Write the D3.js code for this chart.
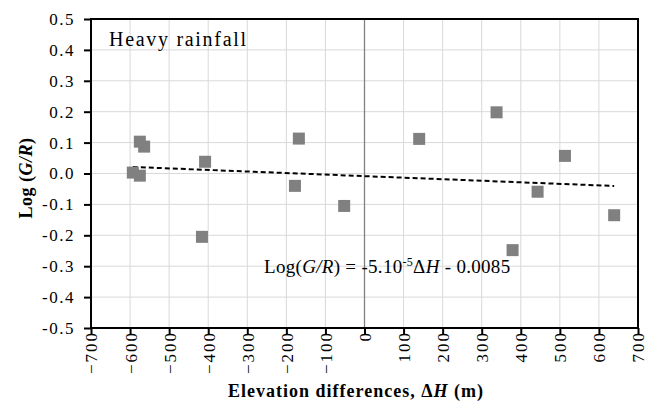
<!DOCTYPE html>
<html>
<head>
<meta charset="utf-8">
<script src="https://cdn.jsdelivr.net/npm/d3@7"></script>
</head>
<body style="margin:0">
<div id="vis"></div>
<script>
// elevation difference (m) and log(G/R) for heavy rainfall
var elevDiff = [-593, -575, -564, -575, -408, -416, -178, -168, -52, 140, 338, 379, 443, 513, 639];
var logGR    = [0.003, 0.103, 0.087, -0.007, 0.038, -0.205, -0.040, 0.113, -0.105, 0.112, 0.198, -0.248, -0.059, 0.057, -0.135];

var xTicks = d3.range(-700, 701, 100);
var yTicks = d3.range(-5, 6).map(function (d) { return d / 10; });

// fitted line: Log(G/R) = -5e-5 dH - 0.0085
var slope = -5e-5, intercept = -0.0085;

var width = 661, height = 403;
var margin = { top: 19, left: 91, bottom: 75, right: 23 };
var FONT = 'Liberation Serif';

var svg = d3.select('#vis').append('svg')
  .attr('width', width)
  .attr('height', height)
  .attr('font-family', FONT)
  .style('font-family', FONT);

var x = d3.scaleLinear().domain([-700, 700]).range([margin.left, width - margin.right]);
var y = d3.scaleLinear().domain([-0.5, 0.5]).range([height - margin.bottom, margin.top]);

// gridlines
svg.append('g').selectAll('line').data(xTicks).enter()
  .append('line')
  .attr('x1', function (d) { return x(d); })
  .attr('x2', function (d) { return x(d); })
  .attr('y1', y(0.5)).attr('y2', y(-0.5))
  .attr('stroke', '#d9d9d9').attr('stroke-width', 1);

svg.append('g').selectAll('line').data(yTicks).enter()
  .append('line')
  .attr('x1', x(-700)).attr('x2', x(700))
  .attr('y1', function (d) { return y(d); })
  .attr('y2', function (d) { return y(d); })
  .attr('stroke', '#d9d9d9').attr('stroke-width', 1);

// zero line
svg.append('line')
  .attr('x1', x(0)).attr('x2', x(0))
  .attr('y1', y(0.5)).attr('y2', y(-0.5))
  .attr('stroke', '#808080').attr('stroke-width', 1.3);

// frame
svg.append('rect')
  .attr('x', x(-700)).attr('y', y(0.5))
  .attr('width', x(700) - x(-700))
  .attr('height', y(-0.5) - y(0.5))
  .attr('fill', 'none')
  .attr('stroke', '#000').attr('stroke-width', 2);

// axes
var yAxis = d3.axisLeft(y).tickValues(yTicks).tickSize(7).tickPadding(9);
var gy = svg.append('g')
  .attr('transform', 'translate(' + x(-700) + ',0)')
  .call(yAxis)
  .attr('font-family', FONT)
  .attr('font-size', 17);
gy.select('.domain').remove();
gy.selectAll('line').attr('stroke-width', 2);
gy.selectAll('text')
  .text(function (d) { return d3.format('.1f')(d).replace('\u2212', '-'); })
  .attr('letter-spacing', 1.5)
  .attr('fill', '#000');

var xAxis = d3.axisBottom(x).tickValues(xTicks).tickSize(6);
var gx = svg.append('g')
  .attr('transform', 'translate(0,' + y(-0.5) + ')')
  .call(xAxis)
  .attr('font-family', FONT)
  .attr('font-size', 17);
gx.select('.domain').remove();
gx.selectAll('line').attr('stroke-width', 2);
gx.selectAll('text')
  .text(function (d) { return d < 0 ? '\u2212' + Math.abs(d) : String(d); })
  .attr('transform', 'rotate(-90)')
  .attr('x', -3).attr('y', 0).attr('dy', '0.35em')
  .attr('text-anchor', 'end')
  .attr('letter-spacing', 2)
  .attr('fill', '#000');

// trend line
var xr = d3.extent(elevDiff);
svg.append('line')
  .attr('x1', x(xr[0])).attr('y1', y(slope * xr[0] + intercept))
  .attr('x2', x(xr[1])).attr('y2', y(slope * xr[1] + intercept))
  .attr('stroke', '#000').attr('stroke-width', 2)
  .attr('stroke-dasharray', '5,3');

// markers
var sq = 12;
svg.append('g').selectAll('rect').data(elevDiff).enter()
  .append('rect')
  .attr('x', function (d) { return x(d) - sq / 2; })
  .attr('y', function (d, i) { return y(logGR[i]) - sq / 2; })
  .attr('width', sq).attr('height', sq)
  .attr('fill', '#808080');

// labels
svg.append('text')
  .attr('x', 109).attr('y', 46)
  .attr('font-size', 20)
  .attr('letter-spacing', 1.7)
  .text('Heavy rainfall');

var eq = svg.append('text')
  .attr('x', 264).attr('y', 273)
  .attr('font-size', 19)
  .attr('letter-spacing', 0.3);
eq.append('tspan').text('Log(');
eq.append('tspan').attr('font-style', 'italic').text('G/R');
eq.append('tspan').text(') = -5.10');
eq.append('tspan').attr('dy', -7).attr('font-size', 12).text('-5');
eq.append('tspan').attr('dy', 7).text('\u0394');
eq.append('tspan').attr('font-style', 'italic').text('H');
eq.append('tspan').text(' - 0.0085');

var xt = svg.append('text')
  .attr('x', 356).attr('y', 397)
  .attr('text-anchor', 'middle')
  .attr('font-size', 18)
  .attr('letter-spacing', 1)
  .attr('font-weight', 'bold');
xt.append('tspan').text('Elevation differences, \u0394');
xt.append('tspan').attr('font-style', 'italic').text('H');
xt.append('tspan').text(' (m)');

var yt = svg.append('text')
  .attr('transform', 'translate(32,178) rotate(-90)')
  .attr('text-anchor', 'middle')
  .attr('font-size', 18)
  .attr('letter-spacing', 0.5)
  .attr('font-weight', 'bold');
yt.append('tspan').text('Log (');
yt.append('tspan').attr('font-style', 'italic').text('G/R');
yt.append('tspan').text(')');
</script>
</body>
</html>
